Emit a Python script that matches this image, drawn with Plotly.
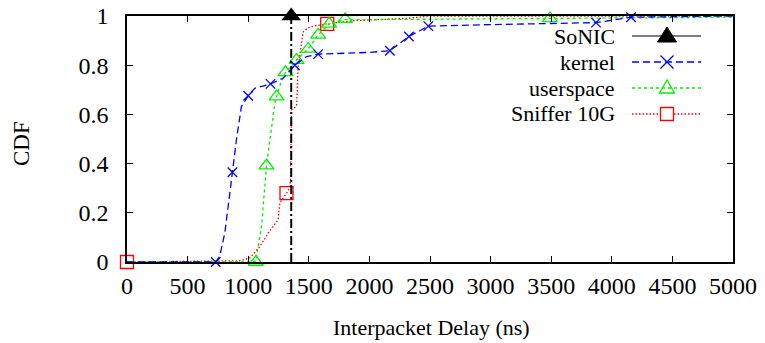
import plotly.graph_objects as go

# ---------------- data ----------------
x_ticks = [0, 500, 1000, 1500, 2000, 2500, 3000, 3500, 4000, 4500, 5000]
y_ticks = [0, 0.2, 0.4, 0.6, 0.8, 1.0]
y_tick_labels = ["0", "0.2", "0.4", "0.6", "0.8", "1"]

series_names = ["SoNIC", "kernel", "userspace", "Sniffer 10G"]

sonic_x = [1355, 1355]
sonic_y = [0.0, 1.0]
sonic_mx = [1355]
sonic_my = [1.0]

kernel_x = [0, 732, 765, 807, 870, 903, 944, 1000, 1054, 1184, 1288, 1385, 1481, 1577,
            2000, 2169, 2326, 2486, 3000, 3870, 4159, 5000]
kernel_y = [0.0, 0.0, 0.023, 0.118, 0.365, 0.497, 0.632, 0.676, 0.706, 0.724, 0.747, 0.80,
            0.835, 0.845, 0.852, 0.859, 0.917, 0.959, 0.965, 0.973, 0.995, 1.0]
kernel_mx = [732, 870, 1000, 1184, 1385, 1577, 2169, 2326, 2486, 3870, 4159]
kernel_my = [0.0, 0.365, 0.676, 0.724, 0.80, 0.845, 0.859, 0.917, 0.959, 0.973, 0.995]

user_x = [0, 1040, 1063, 1110, 1151, 1192, 1220, 1234, 1270, 1308, 1399, 1495, 1577, 1668,
          1800, 2500, 3490, 5000]
user_y = [0.0, 0.0, 0.005, 0.145, 0.392, 0.55, 0.646, 0.672, 0.73, 0.771, 0.821, 0.866,
          0.923, 0.968, 0.985, 0.987, 0.99, 0.995]
user_mx = [1063, 1151, 1234, 1308, 1399, 1495, 1577, 1668, 1800, 3490]
user_my = [0.0, 0.392, 0.672, 0.771, 0.821, 0.866, 0.923, 0.968, 0.987, 0.99]

sniff_x = [0, 480, 930, 1013, 1096, 1165, 1247, 1261, 1290, 1316, 1340, 1349, 1352, 1357,
           1380, 1400, 1412, 1440, 1454, 1509, 1591, 1652, 1866, 2300, 2500, 5000]
sniff_y = [0.0, 0.003, 0.005, 0.016, 0.063, 0.118, 0.172, 0.24, 0.26, 0.28, 0.30, 0.33,
           0.455, 0.618, 0.625, 0.64, 0.794, 0.90, 0.936, 0.956, 0.963, 0.968, 0.981,
           0.99, 1.0, 1.0]
sniff_mx = [0, 1316, 1652]
sniff_my = [0.0, 0.28, 0.968]

# ---------------- style ----------------
FONT = "Liberation Serif"
BLACK = "#000000"
BLUE = "#0000ff"
GREEN = "#00f000"
RED = "#ff0000"

DASH_K = "7px,4px"
DASH_U = "3px,3px"
DASH_S = "1.5px,2px"

fig = go.Figure()

def add_series(lx, ly, mx, my, color, dash, width, symbol, msize, mline, mfill=None):
    fig.add_trace(go.Scatter(x=lx, y=ly, mode="lines", showlegend=False,
                             line=dict(color=color, dash=dash, width=width),
                             hoverinfo="skip"))
    fig.add_trace(go.Scatter(x=mx, y=my, mode="markers", showlegend=False, cliponaxis=False,
                             marker=dict(symbol=symbol, size=msize,
                                         color=mfill if mfill else color,
                                         line=dict(color=color, width=mline))))

add_series(sniff_x, sniff_y, sniff_mx, sniff_my, RED, DASH_S, 1.3, "square-open", 13, 1.3)
add_series(user_x, user_y, user_mx, user_my, GREEN, DASH_U, 1.3, "triangle-up-open", 13, 1.3)
add_series(kernel_x, kernel_y, kernel_mx, kernel_my, BLUE, DASH_K, 1.3, "x-thin-open", 9.5, 1.3)
add_series(sonic_x, sonic_y, sonic_mx, sonic_my, BLACK, "9px,3px,2px,3px", 2, "triangle-up", 17, 0, BLACK)

# ---------------- layout ----------------
L, R, T, B = 127, 32, 16, 81
W, H = 765, 343
pw = W - L - R
ph = H - T - B

def px2x(px):
    return (px - L) / pw

def py2y(py):
    return (H - B - py) / ph

axis_common = dict(showline=True, linecolor=BLACK, linewidth=1.5, mirror="ticks",
                   ticks="inside", ticklen=6, tickwidth=1.2, tickcolor=BLACK,
                   showgrid=False, zeroline=False, automargin=False,
                   tickfont=dict(family=FONT, size=24, color=BLACK))

fig.update_layout(
    width=W, height=H,
    margin=dict(l=L, r=R, t=T, b=B, autoexpand=False),
    paper_bgcolor="white", plot_bgcolor="white",
    showlegend=False,
    xaxis=dict(range=[0, 5000], tickvals=x_ticks, ticklabelstandoff=1, **axis_common),
    yaxis=dict(range=[0, 1], tickvals=y_ticks, ticktext=y_tick_labels,
               ticklabelstandoff=12, **axis_common),
)

annotations = [
    dict(text="Interpacket Delay (ns)", x=px2x(431), y=py2y(327), xref="paper", yref="paper",
         xanchor="center", yanchor="middle", showarrow=False,
         font=dict(family=FONT, size=22, color=BLACK)),
    dict(text="CDF", x=px2x(21), y=py2y(144), xref="paper", yref="paper", textangle=-90,
         xanchor="center", yanchor="middle", showarrow=False,
         font=dict(family=FONT, size=23, color=BLACK)),
]

# custom legend (text left, sample right, like gnuplot)
rows_py = [36, 62, 88, 114]
text_right = 617
line_l, line_r, mark_c = 632, 701, 667
shapes = []
leg_styles = [
    (BLACK, "solid", 1.2),
    (BLUE, DASH_K, 1.3),
    (GREEN, DASH_U, 1.3),
    (RED, DASH_S, 1.3),
]
for i, (name, py) in enumerate(zip(series_names, rows_py)):
    color, dash, w = leg_styles[i]
    annotations.append(dict(text=name, x=px2x(text_right), y=py2y(py), xref="paper", yref="paper",
                            xanchor="right", yanchor="middle", showarrow=False,
                            font=dict(family=FONT, size=22, color=BLACK)))
    shapes.append(dict(type="line", xref="paper", yref="paper",
                       x0=px2x(line_l), x1=px2x(line_r), y0=py2y(py), y1=py2y(py),
                       line=dict(color=color, dash=dash, width=w)))
    if i == 0:
        path = "M {} {} L {} {} L {} {} Z".format(px2x(mark_c - 9.5), py2y(py + 6),
                                                  px2x(mark_c + 9.5), py2y(py + 6),
                                                  px2x(mark_c), py2y(py - 9))
        shapes.append(dict(type="path", xref="paper", yref="paper", path=path,
                           fillcolor=BLACK, line=dict(color=BLACK, width=1)))
    elif i == 1:
        for s in (1, -1):
            shapes.append(dict(type="line", xref="paper", yref="paper",
                               x0=px2x(mark_c - 6.5), x1=px2x(mark_c + 6.5),
                               y0=py2y(py - 6.5 * s), y1=py2y(py + 6.5 * s),
                               line=dict(color=BLUE, width=1.3)))
    elif i == 2:
        path = "M {} {} L {} {} L {} {} Z".format(px2x(mark_c - 7.5), py2y(py + 5),
                                                  px2x(mark_c + 7.5), py2y(py + 5),
                                                  px2x(mark_c), py2y(py - 8))
        shapes.append(dict(type="path", xref="paper", yref="paper", path=path,
                           fillcolor="rgba(0,0,0,0)", line=dict(color=GREEN, width=1.3)))
    else:
        shapes.append(dict(type="rect", xref="paper", yref="paper",
                           x0=px2x(mark_c - 6.5), x1=px2x(mark_c + 6.5),
                           y0=py2y(py - 6.5), y1=py2y(py + 6.5),
                           fillcolor="white", line=dict(color=RED, width=1.3)))

fig.update_layout(annotations=annotations, shapes=shapes)

fig.write_html("out.html", config={"displayModeBar": False},
               post_script="document.body.style.margin='0';")
